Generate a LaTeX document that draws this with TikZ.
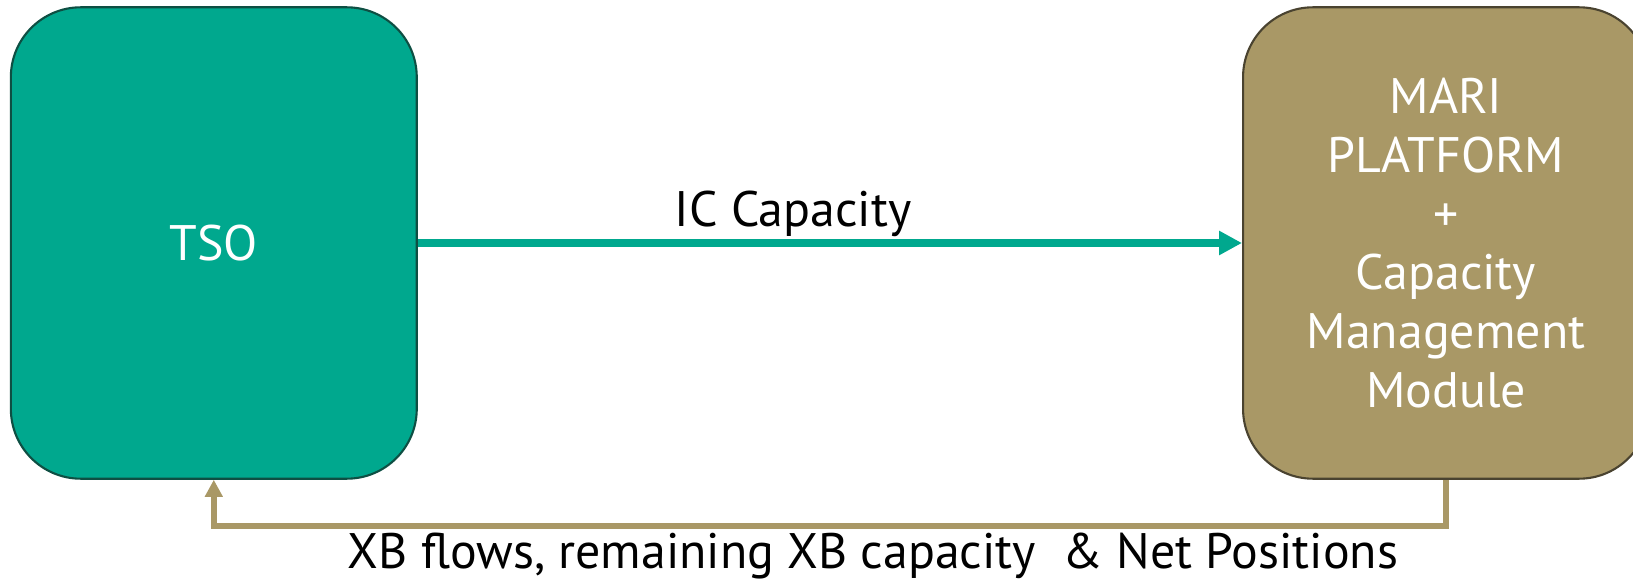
\documentclass[tikz,border=0pt]{standalone}
\usepackage{fontspec}
\setmainfont{PT Sans}
\usetikzlibrary{positioning,arrows.meta}
\definecolor{tsogreen}{HTML}{00A88E}
\definecolor{tsoedge}{HTML}{0E4F43}
\definecolor{marigold}{HTML}{A99866}
\definecolor{mariedge}{HTML}{4A4330}

\begin{document}
\begin{tikzpicture}[x=0.02cm,y=-0.02cm,
  font=\fontsize{28.4}{33.5}\selectfont,
  bigbox/.style={rectangle,rounded corners=1.4cm,line width=1.2pt,
    minimum width=8.12cm,minimum height=9.43cm,text=white,align=center},
  lbl/.style={anchor=base,text=black}]
  \useasboundingbox (0,0) rectangle (1633,584);
  \node[bigbox,fill=tsogreen,draw=tsoedge] (tso) at (213.8,243) {TSO};
  \node[bigbox,fill=marigold,draw=mariedge] (mari) at (1446,243)
    {MARI\\PLATFORM\\+\\Capacity\\Management\\Module};
  \draw[tsogreen,line width=4pt,-{Triangle[length=0.46cm,width=0.46cm]}]
    (tso.east) -- (mari.west);
  \draw[marigold,line width=3.2pt,-{Triangle[length=0.34cm,width=0.34cm]}]
    (mari.south) -- ++(0,46) -| (tso.south);
  \node[lbl] (ic) at (793,227) {IC Capacity};
  \node[lbl] (xb) at (873,568) {XB flows, remaining XB capacity\ \ \& Net Positions};
\end{tikzpicture}
\end{document}
